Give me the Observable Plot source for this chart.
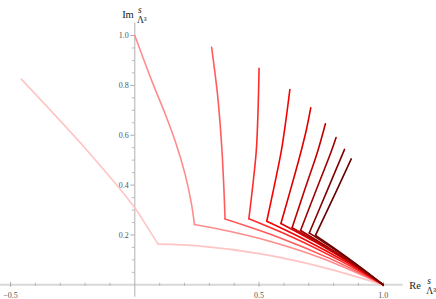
<!DOCTYPE html>
<html><head><meta charset="utf-8">
<script src="https://cdn.jsdelivr.net/npm/d3@7"></script>
<script src="https://cdn.jsdelivr.net/npm/@observablehq/plot@0.6"></script>
<style>body{margin:0;background:#fff}svg{display:block}svg text{font-family:"Liberation Serif","DejaVu Serif",serif}</style>
</head><body><div id="chart"></div>
<script>
// Curve data (Re s/Λ³, Im s/Λ³)
const c1x = [1, 0.75, 0.507, 0.264, 0.094, 0.05, 0, -0.192, -0.457];
const c1y = [0, 0.072, 0.124, 0.155, 0.163, 0.232, 0.309, 0.539, 0.825];
const c2x = [1, 0.75, 0.507, 0.38, 0.240, 0.228, 0.202, 0.166, 0.122, 0.068, 0];
const c2y = [0, 0.108, 0.185, 0.215, 0.242, 0.325, 0.445, 0.566, 0.686, 0.819, 1.0];
const c3x = [1, 0.788, 0.575, 0.363, 0.360, 0.350, 0.334, 0.309];
const c3y = [0, 0.104, 0.192, 0.264, 0.351, 0.552, 0.752, 0.953];
const c4x = [1, 0.820, 0.639, 0.459, 0.475, 0.489, 0.496, 0.5];
const c4y = [0, 0.100, 0.189, 0.265, 0.40, 0.539, 0.70, 0.868];
const c5x = [1, 0.844, 0.687, 0.531, 0.562, 0.590, 0.608, 0.624];
const c5y = [0, 0.095, 0.180, 0.255, 0.40, 0.539, 0.66, 0.783];
const c6x = [1, 0.863, 0.725, 0.588, 0.632, 0.670, 0.690, 0.708];
const c6y = [0, 0.090, 0.172, 0.246, 0.40, 0.539, 0.62, 0.710];
const c7x = [1, 0.878, 0.755, 0.633, 0.685, 0.737, 0.767];
const c7y = [0, 0.082, 0.159, 0.229, 0.385, 0.539, 0.646];
const c8x = [1, 0.889, 0.778, 0.667, 0.730, 0.792, 0.810];
const c8y = [0, 0.078, 0.150, 0.218, 0.38, 0.539, 0.591];
const c9x = [1, 0.901, 0.801, 0.702, 0.775, 0.844];
const c9y = [0, 0.073, 0.143, 0.208, 0.38, 0.543];
const c10x = [1, 0.909, 0.818, 0.727, 0.812, 0.871];
const c10y = [0, 0.070, 0.136, 0.198, 0.378, 0.505];
// index of the corner point in each curve
const kinkIndex = [4, 4, 3, 3, 3, 3, 3, 3, 3, 3];
const curveColors = ["#ffc4c4","#ff8c8c","#ff5c5c","#ff2c2c","#f60000","#dc0000","#bf0000","#a00000","#830000","#680000"];

const xMajor = [-0.5, 0.5, 1.0];
const xMajorLabels = ["\u22120.5", "0.5", "1.0"];
const xMinor = [-0.4, -0.3, -0.2, -0.1, 0.1, 0.2, 0.3, 0.4, 0.6, 0.7, 0.8, 0.9];
const yMajor = [0.2, 0.4, 0.6, 0.8, 1.0];
const yMajorLabels = ["0.2", "0.4", "0.6", "0.8", "1.0"];
const yMinor = [0.05, 0.1, 0.15, 0.25, 0.3, 0.35, 0.45, 0.5, 0.55, 0.65, 0.7, 0.75, 0.85, 0.9, 0.95];

const curves = [[c1x,c1y],[c2x,c2y],[c3x,c3y],[c4x,c4y],[c5x,c5y],[c6x,c6y],[c7x,c7y],[c8x,c8y],[c9x,c9y],[c10x,c10y]];
// split each curve into its lower and upper branch (both share the corner point)
const rows = curves.flatMap(([xs, ys], k) => {
  const out = [];
  xs.forEach((x, i) => {
    if (i <= kinkIndex[k]) out.push({x, y: ys[i], k, seg: k * 2});
    if (i >= kinkIndex[k]) out.push({x, y: ys[i], k, seg: k * 2 + 1});
  });
  return out;
});

const W = 436, H = 299;
const x0px = 134.3, xUnit = 248.5, y0px = 284.3, yUnit = 249.3;
const xDom = [-x0px / xUnit, (W - x0px) / xUnit];
const yDom = [(y0px - H) / yUnit, y0px / yUnit];
const tx = 1 / xUnit, ty = 1 / yUnit; // one pixel in data units
const xAxisEnd = 1.08, yAxisTop = 1.05, yAxisBottom = -0.05;
const serif = "Liberation Serif";

const chart = Plot.plot({
  width: W, height: H,
  x: {domain: xDom, range: [0, W], axis: null},
  y: {domain: yDom, range: [H, 0], axis: null},
  color: {type: "ordinal", domain: d3.range(curves.length), range: curveColors},
  style: {background: "#fff"},
  marks: [
    Plot.ruleY([0], {x1: xDom[0], x2: xAxisEnd, stroke: "#d8d8d8", strokeWidth: 2}),
    Plot.ruleX([0], {y1: yAxisBottom, y2: yAxisTop, stroke: "#b0b0b0", strokeWidth: 1}),
    Plot.ruleX(xMajor, {y1: -2.5 * ty, y2: 2.5 * ty, stroke: "#999", strokeWidth: 0.8}),
    Plot.ruleX(xMinor, {y1: -1.5 * ty, y2: 1.5 * ty, stroke: "#aaa", strokeWidth: 0.8}),
    Plot.ruleY(yMajor, {x1: -4 * tx, x2: 0, stroke: "#999", strokeWidth: 0.8}),
    Plot.ruleY(yMinor, {x1: -2.5 * tx, x2: 0, stroke: "#aaa", strokeWidth: 0.8}),
    Plot.text(xMajor, {x: d => d, y: 0, text: (d, i) => xMajorLabels[i], dy: 11, fontSize: 8, fill: "#555", fontFamily: serif}),
    Plot.text(yMajor, {x: 0, y: d => d, text: (d, i) => yMajorLabels[i], dx: -6, textAnchor: "end", fontSize: 8, fill: "#555", fontFamily: serif}),
    Plot.line(rows, {x: "x", y: "y", z: "seg", stroke: "k", strokeWidth: 1.6, curve: "catmull-rom"}),
    Plot.text(["Im"], {x: 0, y: yDom[1], dx: -1, dy: 17, text: d => d, textAnchor: "end", lineAnchor: "bottom", fontSize: 10.5, fill: "#222", fontFamily: serif}),
    Plot.text(["s"], {x: 0, y: yDom[1], dx: 5, dy: 12, text: d => d, textAnchor: "middle", lineAnchor: "bottom", fontSize: 9.5, fontStyle: "italic", fill: "#222", fontFamily: serif}),
    Plot.text(["\u039B\u00B3"], {x: 0, y: yDom[1], dx: 7, dy: 22, text: d => d, textAnchor: "middle", lineAnchor: "bottom", fontSize: 9.5, fill: "#222", fontFamily: serif}),
    Plot.text(["Re"], {x: xAxisEnd, y: 0, dx: 6, dy: 4, text: d => d, textAnchor: "start", lineAnchor: "bottom", fontSize: 10.5, fill: "#222", fontFamily: serif}),
    Plot.text(["s"], {x: xAxisEnd, y: 0, dx: 26, dy: -1, text: d => d, textAnchor: "middle", lineAnchor: "bottom", fontSize: 9.5, fontStyle: "italic", fill: "#222", fontFamily: serif}),
    Plot.text(["\u039B\u00B3"], {x: xAxisEnd, y: 0, dx: 28, dy: 9, text: d => d, textAnchor: "middle", lineAnchor: "bottom", fontSize: 9.5, fill: "#222", fontFamily: serif})
  ]
});
document.getElementById("chart").appendChild(chart);
</script>
</body></html>
